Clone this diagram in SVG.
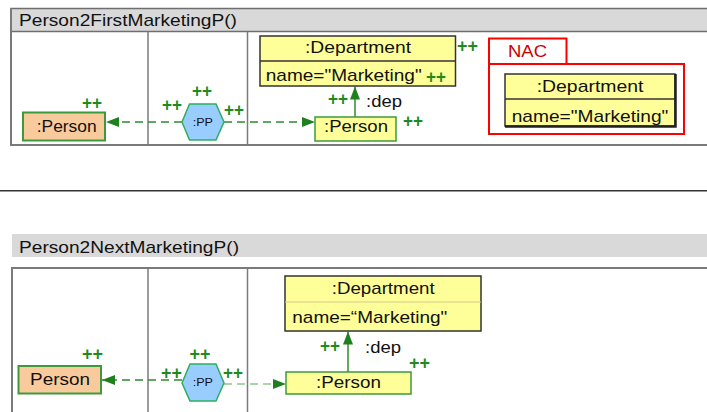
<svg xmlns="http://www.w3.org/2000/svg" width="707" height="412" viewBox="0 0 707 412">
<style>
text{font-family:"Liberation Sans",Arial,sans-serif;font-size:17px;fill:#111;}
.pp{font-size:11px;}
.plus{font-weight:bold;font-size:18px;fill:#1f8a1f;}
.nac{fill:#cc0000;}
.frame{fill:none;stroke:#7a7a7a;stroke-width:2;}
.div{stroke:#7a7a7a;stroke-width:1.5;}
.tan{fill:#f9cb9c;stroke:#3c9a3c;stroke-width:2;}
.ylw{fill:#ffff99;stroke:#3c9a3c;stroke-width:1.5;}
.dept{fill:#ffff99;stroke:#333;stroke-width:1.5;}
.hex{fill:#99ccff;stroke:#2eae5e;stroke-width:1.5;}
.dash{fill:none;stroke:#2e8b2e;stroke-width:1.5;stroke-dasharray:8 5;}
.dashl{fill:none;stroke:#8fc88f;stroke-width:1.5;stroke-dasharray:8 5;}
.solid{fill:none;stroke:#2e8b2e;stroke-width:1.5;}
</style>
<defs>
<marker id="ah" markerUnits="userSpaceOnUse" markerWidth="14" markerHeight="10" refX="13" refY="5" orient="auto">
<path d="M0,0 L13,5 L0,10 Z" fill="#1f801f"/>
</marker>
</defs>
<rect width="707" height="412" fill="#fff"/>

<!-- top panel frame -->
<g id="panel1">
<rect x="11" y="8.5" width="700" height="23" fill="#d9d9d9" stroke="#6e6e6e" stroke-width="1.5"/>
<path class="frame" d="M11,8.5 V145 H711"/>
<line class="div" x1="148" y1="31.5" x2="148" y2="145"/>
<line class="div" x1="247.5" y1="31.5" x2="247.5" y2="145"/>
<text x="19" y="26" textLength="218" lengthAdjust="spacingAndGlyphs">Person2FirstMarketingP()</text>
</g>

<line x1="0" y1="190.7" x2="707" y2="190.7" stroke="#333" stroke-width="1.5"/>

<!-- bottom panel frame -->
<g id="panel2">
<rect x="12" y="234" width="695" height="23" fill="#d9d9d9"/>
<path class="frame" d="M12,414 V268 H711"/>
<line class="div" x1="148" y1="268" x2="148" y2="414"/>
<line class="div" x1="247.5" y1="268" x2="247.5" y2="414"/>
<text x="19" y="252.7" textLength="220" lengthAdjust="spacingAndGlyphs">Person2NextMarketingP()</text>
</g>

<!-- connectors -->
<g id="connectors">
<line class="dash" x1="182" y1="122" x2="106" y2="122" marker-end="url(#ah)"/>
<line class="dash" x1="224" y1="122" x2="315" y2="122" marker-end="url(#ah)"/>
<line class="solid" x1="355" y1="117" x2="355" y2="86.5" marker-end="url(#ah)"/>
<line class="dash" x1="182" y1="380" x2="102" y2="380" marker-end="url(#ah)"/>
<line class="dashl" x1="224" y1="384" x2="286" y2="384" marker-end="url(#ah)"/>
<line class="solid" x1="348" y1="372" x2="348" y2="331.5" marker-end="url(#ah)"/>
</g>

<!-- top nodes -->
<g id="t_person_lhs">
<rect class="tan" x="23" y="112.5" width="82" height="28"/>
<text x="36.7" y="132" textLength="60" lengthAdjust="spacingAndGlyphs">:Person</text>
</g>
<g id="t_pp">
<polygon class="hex" points="182,122 189.5,104 216,104 224,122 216,140 189.5,140"/>
<text class="pp" x="192.7" y="126" textLength="20.3" lengthAdjust="spacingAndGlyphs">:PP</text>
</g>
<g id="t_person_rhs">
<rect class="ylw" x="315" y="117" width="81" height="24"/>
<text x="324" y="132" textLength="64" lengthAdjust="spacingAndGlyphs">:Person</text>
</g>
<g id="t_dept">
<rect class="dept" x="260" y="36" width="195.5" height="50"/>
<line x1="260" y1="61" x2="455.5" y2="61" stroke="#333" stroke-width="1.5"/>
<text x="305" y="53" textLength="106" lengthAdjust="spacingAndGlyphs">:Department</text>
<text x="265.7" y="81" textLength="156" lengthAdjust="spacingAndGlyphs">name="Marketing"</text>
</g>
<g id="t_nac">
<path d="M489,64 V38.5 H566.5 V64" fill="#fff" stroke="#ff0000" stroke-width="2"/>
<rect x="489" y="64" width="195" height="70" fill="none" stroke="#ff0000" stroke-width="2"/>
<text class="nac" x="508" y="57.3" textLength="39" lengthAdjust="spacingAndGlyphs">NAC</text>
<rect class="dept" x="505" y="74" width="170" height="52"/>
<path d="M505,126.5 H675.5 V74" fill="none" stroke="#222" stroke-width="2.5"/>
<line x1="505" y1="99" x2="675" y2="99" stroke="#333" stroke-width="1.5"/>
<text x="536.7" y="91.7" textLength="106.7" lengthAdjust="spacingAndGlyphs">:Department</text>
<text x="511.7" y="121.7" textLength="156.7" lengthAdjust="spacingAndGlyphs">name="Marketing"</text>
</g>
<g id="t_labels">
<text x="366" y="107" textLength="36" lengthAdjust="spacingAndGlyphs">:dep</text>
<text class="plus" x="82" y="108.5" textLength="20" lengthAdjust="spacingAndGlyphs">++</text>
<text class="plus" x="192" y="97" textLength="20" lengthAdjust="spacingAndGlyphs">++</text>
<text class="plus" x="162" y="111" textLength="20" lengthAdjust="spacingAndGlyphs">++</text>
<text class="plus" x="224" y="115.5" textLength="20" lengthAdjust="spacingAndGlyphs">++</text>
<text class="plus" x="328" y="104.5" textLength="20" lengthAdjust="spacingAndGlyphs">++</text>
<text class="plus" x="457" y="51.5" textLength="21" lengthAdjust="spacingAndGlyphs">++</text>
<text class="plus" x="426" y="82.5" textLength="20" lengthAdjust="spacingAndGlyphs">++</text>
<text class="plus" x="403" y="127" textLength="20" lengthAdjust="spacingAndGlyphs">++</text>
</g>

<!-- bottom nodes -->
<g id="b_person_lhs">
<rect class="tan" x="18.5" y="366" width="82.5" height="27.5"/>
<text x="30" y="385" textLength="60" lengthAdjust="spacingAndGlyphs">Person</text>
</g>
<g id="b_pp">
<polygon class="hex" points="182,383 190,364 216,364 224,383 216,401 190,401"/>
<text class="pp" x="192.7" y="386" textLength="20.3" lengthAdjust="spacingAndGlyphs">:PP</text>
</g>
<g id="b_person_rhs">
<rect class="ylw" x="286" y="372" width="125" height="22"/>
<text x="316" y="388.3" textLength="65" lengthAdjust="spacingAndGlyphs">:Person</text>
</g>
<g id="b_dept">
<rect class="dept" x="285" y="276" width="196" height="55"/>
<line x1="285" y1="302" x2="481" y2="302" stroke="#d8c890" stroke-width="1"/>
<text x="331.7" y="294" textLength="103" lengthAdjust="spacingAndGlyphs">:Department</text>
<text x="292.3" y="323.3" textLength="155" lengthAdjust="spacingAndGlyphs">name=“Marketing"</text>
</g>
<g id="b_labels">
<text x="365" y="353" textLength="36" lengthAdjust="spacingAndGlyphs">:dep</text>
<text class="plus" x="82" y="360" textLength="21" lengthAdjust="spacingAndGlyphs">++</text>
<text class="plus" x="189.5" y="360" textLength="21" lengthAdjust="spacingAndGlyphs">++</text>
<text class="plus" x="161" y="378.5" textLength="21" lengthAdjust="spacingAndGlyphs">++</text>
<text class="plus" x="223" y="378.5" textLength="20" lengthAdjust="spacingAndGlyphs">++</text>
<text class="plus" x="320" y="352" textLength="20" lengthAdjust="spacingAndGlyphs">++</text>
<text class="plus" x="409" y="368.5" textLength="21" lengthAdjust="spacingAndGlyphs">++</text>
</g>
</svg>
